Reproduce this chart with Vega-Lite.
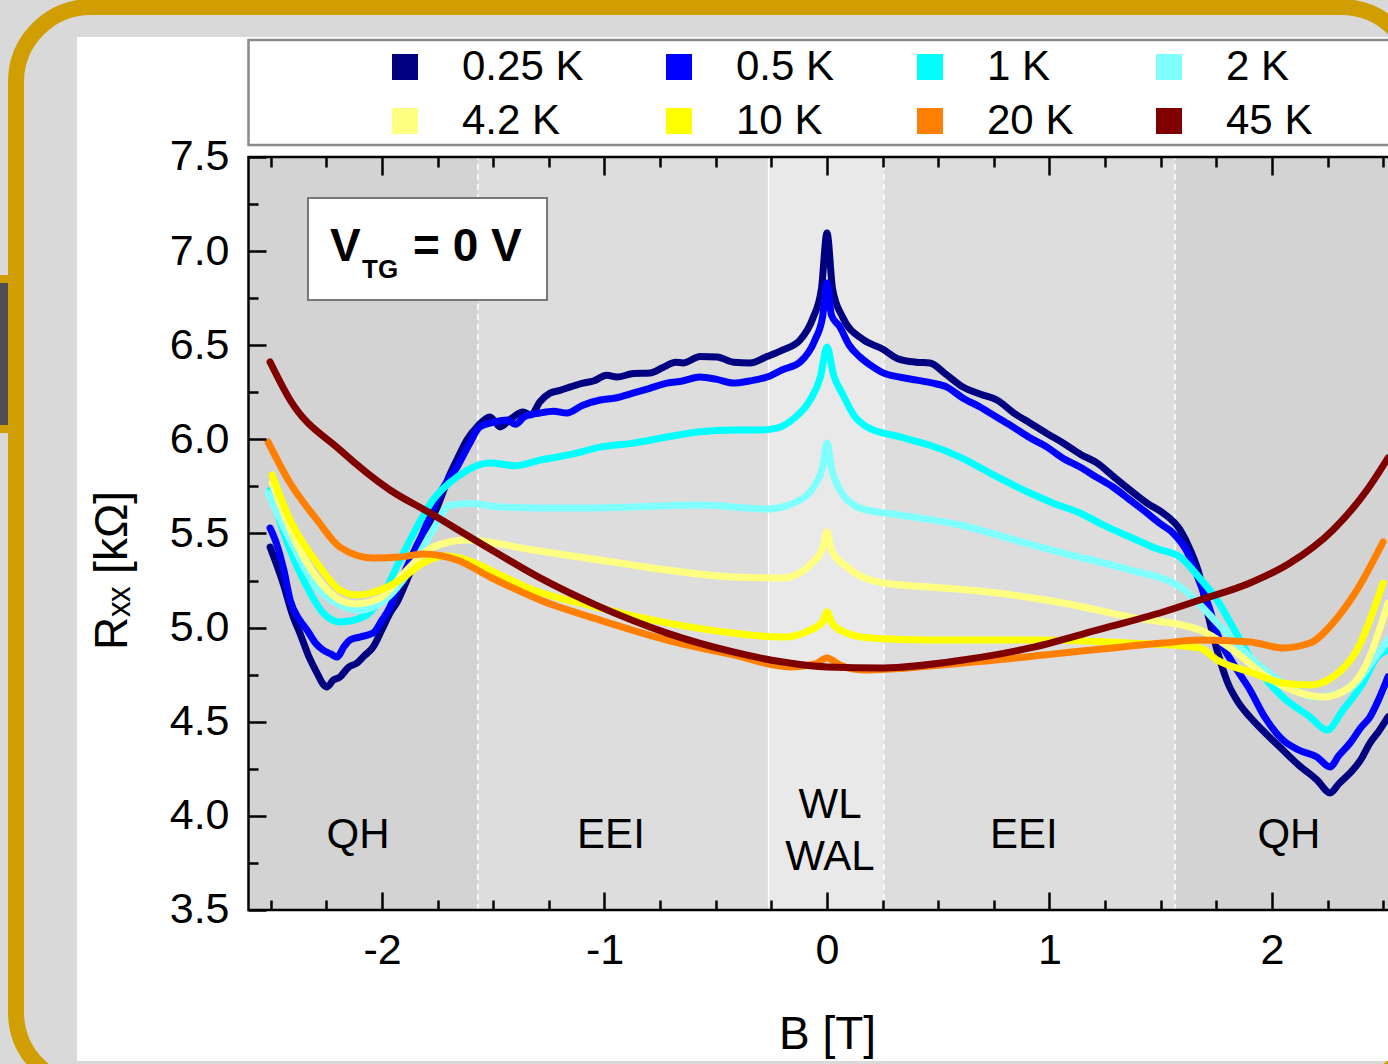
{
"$schema": "https://vega.github.io/schema/vega-lite/v6.json",
"width": 1400, "height": 1080,
"autosize": {"type": "none"},
"padding": {"left": 16, "top": 7, "right": -28, "bottom": -23},
"background": "#d9d9d9",
"config": {
  "view": {"stroke": "#d09e00", "strokeWidth": 16, "cornerRadius": 75, "fill": "#d9d9d9"},
  "font": "Liberation Sans",
  "axis": {"grid": false, "domain": false, "tickColor": "black", "tickWidth": 2.5, "labelFont": "Liberation Sans", "labelFontSize": 43, "labelColor": "black", "titleFont": "Liberation Sans", "titleFontSize": 46, "titleFontWeight": "normal", "titleColor": "black"}
},
"datasets": {
  "bands": [
    {"zone": "QH", "b1": -2.6, "b2": -1.569},
    {"zone": "EEI", "b1": -1.569, "b2": -0.2625},
    {"zone": "WL", "b1": -0.2625, "b2": 0.256},
    {"zone": "EEI", "b1": 0.256, "b2": 1.564},
    {"zone": "QH", "b1": 1.564, "b2": 2.6}
  ],
  "bounds": [
    {"B": -1.569, "kind": "dash"}, {"B": -0.2625, "kind": "solid"}, {"B": 0.256, "kind": "dash"}, {"B": 1.564, "kind": "dash"}
  ],
  "zones": [
    {"txt": "QH", "B": -2.108, "R": 3.829}, {"txt": "EEI", "B": -0.971, "R": 3.829},
    {"txt": "WL", "B": 0.0135, "R": 3.989}, {"txt": "WAL", "B": 0.0135, "R": 3.712},
    {"txt": "EEI", "B": 0.885, "R": 3.829}, {"txt": "QH", "B": 2.076, "R": 3.829}
  ],
  "vtg": [
    {"txt": "V", "B": -2.2337, "R": 6.9475, "part": "big"},
    {"txt": "= 0 V", "B": -1.8607, "R": 6.9475, "part": "big"},
    {"txt": "TG", "B": -2.0899, "R": 6.8572, "part": "sub"}
  ],
  "curves": [
{"T":"0.25 K","B":-2.503,"R":5.428},{"T":"0.25 K","B":-2.445,"R":5.237},{"T":"0.25 K","B":-2.4,"R":5.06},{"T":"0.25 K","B":-2.369,"R":4.971},{"T":"0.25 K","B":-2.33,"R":4.85},{"T":"0.25 K","B":-2.292,"R":4.759},{"T":"0.25 K","B":-2.265,"R":4.7},{"T":"0.25 K","B":-2.247,"R":4.685},{"T":"0.25 K","B":-2.22,"R":4.72},{"T":"0.25 K","B":-2.189,"R":4.738},{"T":"0.25 K","B":-2.15,"R":4.79},{"T":"0.25 K","B":-2.112,"R":4.812},{"T":"0.25 K","B":-2.08,"R":4.85},{"T":"0.25 K","B":-2.04,"R":4.897},{"T":"0.25 K","B":-2.0,"R":4.99},{"T":"0.25 K","B":-1.964,"R":5.078},{"T":"0.25 K","B":-1.93,"R":5.14},{"T":"0.25 K","B":-1.888,"R":5.253},{"T":"0.25 K","B":-1.85,"R":5.36},{"T":"0.25 K","B":-1.816,"R":5.466},{"T":"0.25 K","B":-1.78,"R":5.56},{"T":"0.25 K","B":-1.739,"R":5.678},{"T":"0.25 K","B":-1.7,"R":5.8},{"T":"0.25 K","B":-1.66,"R":5.9},{"T":"0.25 K","B":-1.618,"R":5.997},{"T":"0.25 K","B":-1.57,"R":6.07},{"T":"0.25 K","B":-1.515,"R":6.119},{"T":"0.25 K","B":-1.49,"R":6.09},{"T":"0.25 K","B":-1.47,"R":6.066},{"T":"0.25 K","B":-1.42,"R":6.11},{"T":"0.25 K","B":-1.366,"R":6.145},{"T":"0.25 K","B":-1.33,"R":6.13},{"T":"0.25 K","B":-1.29,"R":6.2},{"T":"0.25 K","B":-1.245,"R":6.246},{"T":"0.25 K","B":-1.2,"R":6.26},{"T":"0.25 K","B":-1.15,"R":6.28},{"T":"0.25 K","B":-1.097,"R":6.299},{"T":"0.25 K","B":-1.05,"R":6.31},{"T":"0.25 K","B":-0.99,"R":6.34},{"T":"0.25 K","B":-0.944,"R":6.331},{"T":"0.25 K","B":-0.87,"R":6.35},{"T":"0.25 K","B":-0.796,"R":6.353},{"T":"0.25 K","B":-0.74,"R":6.38},{"T":"0.25 K","B":-0.68,"R":6.41},{"T":"0.25 K","B":-0.647,"R":6.406},{"T":"0.25 K","B":-0.57,"R":6.44},{"T":"0.25 K","B":-0.494,"R":6.438},{"T":"0.25 K","B":-0.42,"R":6.41},{"T":"0.25 K","B":-0.346,"R":6.406},{"T":"0.25 K","B":-0.27,"R":6.44},{"T":"0.25 K","B":-0.198,"R":6.475},{"T":"0.25 K","B":-0.121,"R":6.528},{"T":"0.25 K","B":-0.063,"R":6.645},{"T":"0.25 K","B":-0.025,"R":6.8},{"T":"0.25 K","B":0,"R":7.096},{"T":"0.25 K","B":0.025,"R":6.8},{"T":"0.25 K","B":0.07,"R":6.65},{"T":"0.25 K","B":0.162,"R":6.53},{"T":"0.25 K","B":0.25,"R":6.48},{"T":"0.25 K","B":0.315,"R":6.43},{"T":"0.25 K","B":0.4,"R":6.41},{"T":"0.25 K","B":0.463,"R":6.406},{"T":"0.25 K","B":0.53,"R":6.35},{"T":"0.25 K","B":0.611,"R":6.278},{"T":"0.25 K","B":0.69,"R":6.24},{"T":"0.25 K","B":0.764,"R":6.209},{"T":"0.25 K","B":0.84,"R":6.14},{"T":"0.25 K","B":0.912,"R":6.087},{"T":"0.25 K","B":0.99,"R":6.03},{"T":"0.25 K","B":1.061,"R":5.981},{"T":"0.25 K","B":1.14,"R":5.92},{"T":"0.25 K","B":1.213,"R":5.875},{"T":"0.25 K","B":1.29,"R":5.8},{"T":"0.25 K","B":1.362,"R":5.731},{"T":"0.25 K","B":1.44,"R":5.66},{"T":"0.25 K","B":1.51,"R":5.609},{"T":"0.25 K","B":1.587,"R":5.519},{"T":"0.25 K","B":1.63,"R":5.42},{"T":"0.25 K","B":1.676,"R":5.269},{"T":"0.25 K","B":1.71,"R":5.08},{"T":"0.25 K","B":1.753,"R":4.881},{"T":"0.25 K","B":1.8,"R":4.71},{"T":"0.25 K","B":1.85,"R":4.6},{"T":"0.25 K","B":1.901,"R":4.525},{"T":"0.25 K","B":1.97,"R":4.44},{"T":"0.25 K","B":2.049,"R":4.35},{"T":"0.25 K","B":2.12,"R":4.27},{"T":"0.25 K","B":2.202,"R":4.191},{"T":"0.25 K","B":2.261,"R":4.122},{"T":"0.25 K","B":2.3,"R":4.17},{"T":"0.25 K","B":2.351,"R":4.228},{"T":"0.25 K","B":2.4,"R":4.3},{"T":"0.25 K","B":2.44,"R":4.387},{"T":"0.25 K","B":2.48,"R":4.45},{"T":"0.25 K","B":2.521,"R":4.525},
{"T":"0.5 K","B":-2.503,"R":5.529},{"T":"0.5 K","B":-2.472,"R":5.439},{"T":"0.5 K","B":-2.44,"R":5.3},{"T":"0.5 K","B":-2.413,"R":5.147},{"T":"0.5 K","B":-2.37,"R":5.04},{"T":"0.5 K","B":-2.337,"R":4.987},{"T":"0.5 K","B":-2.3,"R":4.92},{"T":"0.5 K","B":-2.265,"R":4.881},{"T":"0.5 K","B":-2.23,"R":4.86},{"T":"0.5 K","B":-2.202,"R":4.844},{"T":"0.5 K","B":-2.17,"R":4.9},{"T":"0.5 K","B":-2.144,"R":4.934},{"T":"0.5 K","B":-2.1,"R":4.95},{"T":"0.5 K","B":-2.04,"R":4.971},{"T":"0.5 K","B":-2.0,"R":5.04},{"T":"0.5 K","B":-1.964,"R":5.11},{"T":"0.5 K","B":-1.93,"R":5.21},{"T":"0.5 K","B":-1.888,"R":5.322},{"T":"0.5 K","B":-1.85,"R":5.42},{"T":"0.5 K","B":-1.816,"R":5.503},{"T":"0.5 K","B":-1.78,"R":5.61},{"T":"0.5 K","B":-1.739,"R":5.715},{"T":"0.5 K","B":-1.7,"R":5.79},{"T":"0.5 K","B":-1.663,"R":5.853},{"T":"0.5 K","B":-1.61,"R":5.97},{"T":"0.5 K","B":-1.56,"R":6.066},{"T":"0.5 K","B":-1.5,"R":6.09},{"T":"0.5 K","B":-1.438,"R":6.103},{"T":"0.5 K","B":-1.4,"R":6.08},{"T":"0.5 K","B":-1.36,"R":6.12},{"T":"0.5 K","B":-1.29,"R":6.14},{"T":"0.5 K","B":-1.23,"R":6.15},{"T":"0.5 K","B":-1.169,"R":6.14},{"T":"0.5 K","B":-1.1,"R":6.18},{"T":"0.5 K","B":-1.02,"R":6.209},{"T":"0.5 K","B":-0.95,"R":6.22},{"T":"0.5 K","B":-0.872,"R":6.246},{"T":"0.5 K","B":-0.8,"R":6.27},{"T":"0.5 K","B":-0.719,"R":6.299},{"T":"0.5 K","B":-0.65,"R":6.31},{"T":"0.5 K","B":-0.571,"R":6.331},{"T":"0.5 K","B":-0.5,"R":6.32},{"T":"0.5 K","B":-0.422,"R":6.299},{"T":"0.5 K","B":-0.35,"R":6.31},{"T":"0.5 K","B":-0.27,"R":6.331},{"T":"0.5 K","B":-0.2,"R":6.37},{"T":"0.5 K","B":-0.121,"R":6.411},{"T":"0.5 K","B":-0.054,"R":6.528},{"T":"0.5 K","B":-0.02,"R":6.65},{"T":"0.5 K","B":0,"R":6.831},{"T":"0.5 K","B":0.02,"R":6.66},{"T":"0.5 K","B":0.058,"R":6.597},{"T":"0.5 K","B":0.1,"R":6.5},{"T":"0.5 K","B":0.148,"R":6.438},{"T":"0.5 K","B":0.2,"R":6.39},{"T":"0.5 K","B":0.252,"R":6.353},{"T":"0.5 K","B":0.33,"R":6.33},{"T":"0.5 K","B":0.404,"R":6.315},{"T":"0.5 K","B":0.47,"R":6.3},{"T":"0.5 K","B":0.539,"R":6.278},{"T":"0.5 K","B":0.61,"R":6.22},{"T":"0.5 K","B":0.688,"R":6.172},{"T":"0.5 K","B":0.76,"R":6.12},{"T":"0.5 K","B":0.836,"R":6.066},{"T":"0.5 K","B":0.91,"R":6.01},{"T":"0.5 K","B":0.989,"R":5.959},{"T":"0.5 K","B":1.06,"R":5.9},{"T":"0.5 K","B":1.137,"R":5.853},{"T":"0.5 K","B":1.21,"R":5.8},{"T":"0.5 K","B":1.285,"R":5.747},{"T":"0.5 K","B":1.36,"R":5.68},{"T":"0.5 K","B":1.438,"R":5.609},{"T":"0.5 K","B":1.5,"R":5.55},{"T":"0.5 K","B":1.555,"R":5.503},{"T":"0.5 K","B":1.62,"R":5.4},{"T":"0.5 K","B":1.676,"R":5.237},{"T":"0.5 K","B":1.72,"R":5.1},{"T":"0.5 K","B":1.753,"R":4.971},{"T":"0.5 K","B":1.83,"R":4.8},{"T":"0.5 K","B":1.901,"R":4.669},{"T":"0.5 K","B":1.97,"R":4.52},{"T":"0.5 K","B":2.049,"R":4.403},{"T":"0.5 K","B":2.12,"R":4.35},{"T":"0.5 K","B":2.202,"R":4.313},{"T":"0.5 K","B":2.261,"R":4.26},{"T":"0.5 K","B":2.3,"R":4.32},{"T":"0.5 K","B":2.351,"R":4.387},{"T":"0.5 K","B":2.4,"R":4.47},{"T":"0.5 K","B":2.44,"R":4.525},{"T":"0.5 K","B":2.48,"R":4.62},{"T":"0.5 K","B":2.521,"R":4.738},
{"T":"1 K","B":-2.503,"R":5.731},{"T":"1 K","B":-2.46,"R":5.57},{"T":"1 K","B":-2.413,"R":5.412},{"T":"1 K","B":-2.337,"R":5.216},{"T":"1 K","B":-2.265,"R":5.078},{"T":"1 K","B":-2.189,"R":5.03},{"T":"1 K","B":-2.085,"R":5.056},{"T":"1 K","B":-2.009,"R":5.147},{"T":"1 K","B":-1.919,"R":5.359},{"T":"1 K","B":-1.843,"R":5.535},{"T":"1 K","B":-1.771,"R":5.678},{"T":"1 K","B":-1.663,"R":5.8},{"T":"1 K","B":-1.515,"R":5.875},{"T":"1 K","B":-1.4,"R":5.86},{"T":"1 K","B":-1.29,"R":5.89},{"T":"1 K","B":-1.15,"R":5.92},{"T":"1 K","B":-1.02,"R":5.959},{"T":"1 K","B":-0.87,"R":5.98},{"T":"1 K","B":-0.719,"R":6.013},{"T":"1 K","B":-0.57,"R":6.04},{"T":"1 K","B":-0.422,"R":6.05},{"T":"1 K","B":-0.3,"R":6.05},{"T":"1 K","B":-0.225,"R":6.06},{"T":"1 K","B":-0.15,"R":6.11},{"T":"1 K","B":-0.076,"R":6.209},{"T":"1 K","B":-0.03,"R":6.33},{"T":"1 K","B":0,"R":6.491},{"T":"1 K","B":0.03,"R":6.34},{"T":"1 K","B":0.072,"R":6.236},{"T":"1 K","B":0.12,"R":6.13},{"T":"1 K","B":0.18,"R":6.066},{"T":"1 K","B":0.328,"R":6.013},{"T":"1 K","B":0.46,"R":5.97},{"T":"1 K","B":0.598,"R":5.906},{"T":"1 K","B":0.75,"R":5.81},{"T":"1 K","B":0.912,"R":5.715},{"T":"1 K","B":1.02,"R":5.66},{"T":"1 K","B":1.137,"R":5.609},{"T":"1 K","B":1.25,"R":5.54},{"T":"1 K","B":1.362,"R":5.481},{"T":"1 K","B":1.48,"R":5.42},{"T":"1 K","B":1.587,"R":5.375},{"T":"1 K","B":1.67,"R":5.27},{"T":"1 K","B":1.753,"R":5.147},{"T":"1 K","B":1.83,"R":4.99},{"T":"1 K","B":1.901,"R":4.844},{"T":"1 K","B":1.97,"R":4.73},{"T":"1 K","B":2.049,"R":4.631},{"T":"1 K","B":2.171,"R":4.525},{"T":"1 K","B":2.247,"R":4.456},{"T":"1 K","B":2.319,"R":4.562},{"T":"1 K","B":2.409,"R":4.706},{"T":"1 K","B":2.472,"R":4.844},{"T":"1 K","B":2.521,"R":4.881},
{"T":"2 K","B":-2.512,"R":5.715},{"T":"2 K","B":-2.46,"R":5.58},{"T":"2 K","B":-2.413,"R":5.466},{"T":"2 K","B":-2.301,"R":5.226},{"T":"2 K","B":-2.189,"R":5.12},{"T":"2 K","B":-2.099,"R":5.094},{"T":"2 K","B":-1.987,"R":5.147},{"T":"2 K","B":-1.874,"R":5.306},{"T":"2 K","B":-1.771,"R":5.519},{"T":"2 K","B":-1.694,"R":5.651},{"T":"2 K","B":-1.6,"R":5.66},{"T":"2 K","B":-1.47,"R":5.641},{"T":"2 K","B":-1.169,"R":5.635},{"T":"2 K","B":-0.872,"R":5.641},{"T":"2 K","B":-0.571,"R":5.651},{"T":"2 K","B":-0.27,"R":5.63},{"T":"2 K","B":-0.121,"R":5.678},{"T":"2 K","B":-0.054,"R":5.758},{"T":"2 K","B":-0.02,"R":5.85},{"T":"2 K","B":0,"R":5.981},{"T":"2 K","B":0.02,"R":5.85},{"T":"2 K","B":0.058,"R":5.731},{"T":"2 K","B":0.148,"R":5.635},{"T":"2 K","B":0.328,"R":5.598},{"T":"2 K","B":0.598,"R":5.545},{"T":"2 K","B":0.83,"R":5.47},{"T":"2 K","B":1.061,"R":5.396},{"T":"2 K","B":1.362,"R":5.306},{"T":"2 K","B":1.587,"R":5.216},{"T":"2 K","B":1.67,"R":5.13},{"T":"2 K","B":1.753,"R":5.025},{"T":"2 K","B":1.901,"R":4.844},{"T":"2 K","B":2.049,"R":4.706},{"T":"2 K","B":2.202,"R":4.631},{"T":"2 K","B":2.351,"R":4.679},{"T":"2 K","B":2.472,"R":4.855},{"T":"2 K","B":2.521,"R":4.934},
{"T":"4.2 K","B":-2.494,"R":5.768},{"T":"4.2 K","B":-2.391,"R":5.466},{"T":"4.2 K","B":-2.292,"R":5.264},{"T":"4.2 K","B":-2.189,"R":5.147},{"T":"4.2 K","B":-2.121,"R":5.126},{"T":"4.2 K","B":-2.009,"R":5.157},{"T":"4.2 K","B":-1.888,"R":5.306},{"T":"4.2 K","B":-1.771,"R":5.428},{"T":"4.2 K","B":-1.618,"R":5.466},{"T":"4.2 K","B":-1.321,"R":5.412},{"T":"4.2 K","B":-1.02,"R":5.359},{"T":"4.2 K","B":-0.719,"R":5.306},{"T":"4.2 K","B":-0.422,"R":5.269},{"T":"4.2 K","B":-0.198,"R":5.264},{"T":"4.2 K","B":-0.076,"R":5.333},{"T":"4.2 K","B":-0.02,"R":5.42},{"T":"4.2 K","B":0,"R":5.508},{"T":"4.2 K","B":0.02,"R":5.41},{"T":"4.2 K","B":0.09,"R":5.322},{"T":"4.2 K","B":0.252,"R":5.237},{"T":"4.2 K","B":0.463,"R":5.216},{"T":"4.2 K","B":0.764,"R":5.184},{"T":"4.2 K","B":1.061,"R":5.131},{"T":"4.2 K","B":1.362,"R":5.056},{"T":"4.2 K","B":1.676,"R":4.987},{"T":"4.2 K","B":1.825,"R":4.881},{"T":"4.2 K","B":1.978,"R":4.738},{"T":"4.2 K","B":2.126,"R":4.653},{"T":"4.2 K","B":2.229,"R":4.631},{"T":"4.2 K","B":2.351,"R":4.685},{"T":"4.2 K","B":2.427,"R":4.812},{"T":"4.2 K","B":2.521,"R":5.131},
{"T":"10 K","B":-2.494,"R":5.811},{"T":"10 K","B":-2.413,"R":5.572},{"T":"10 K","B":-2.292,"R":5.343},{"T":"10 K","B":-2.189,"R":5.2},{"T":"10 K","B":-2.112,"R":5.173},{"T":"10 K","B":-2.009,"R":5.2},{"T":"10 K","B":-1.919,"R":5.253},{"T":"10 K","B":-1.816,"R":5.343},{"T":"10 K","B":-1.717,"R":5.38},{"T":"10 K","B":-1.618,"R":5.359},{"T":"10 K","B":-1.47,"R":5.28},{"T":"10 K","B":-1.321,"R":5.2},{"T":"10 K","B":-1.169,"R":5.147},{"T":"10 K","B":-1.02,"R":5.104},{"T":"10 K","B":-0.719,"R":5.025},{"T":"10 K","B":-0.422,"R":4.971},{"T":"10 K","B":-0.198,"R":4.95},{"T":"10 K","B":-0.076,"R":4.987},{"T":"10 K","B":-0.02,"R":5.03},{"T":"10 K","B":0,"R":5.083},{"T":"10 K","B":0.02,"R":5.03},{"T":"10 K","B":0.058,"R":4.987},{"T":"10 K","B":0.193,"R":4.945},{"T":"10 K","B":0.463,"R":4.934},{"T":"10 K","B":0.912,"R":4.934},{"T":"10 K","B":1.362,"R":4.918},{"T":"10 K","B":1.676,"R":4.892},{"T":"10 K","B":1.753,"R":4.828},{"T":"10 K","B":1.901,"R":4.764},{"T":"10 K","B":2.049,"R":4.706},{"T":"10 K","B":2.171,"R":4.695},{"T":"10 K","B":2.274,"R":4.738},{"T":"10 K","B":2.382,"R":4.881},{"T":"10 K","B":2.499,"R":5.237},
{"T":"20 K","B":-2.512,"R":5.986},{"T":"20 K","B":-2.413,"R":5.768},{"T":"20 K","B":-2.292,"R":5.572},{"T":"20 K","B":-2.189,"R":5.428},{"T":"20 K","B":-2.04,"R":5.37},{"T":"20 K","B":-1.919,"R":5.375},{"T":"20 K","B":-1.816,"R":5.391},{"T":"20 K","B":-1.663,"R":5.359},{"T":"20 K","B":-1.515,"R":5.269},{"T":"20 K","B":-1.29,"R":5.147},{"T":"20 K","B":-1.02,"R":5.04},{"T":"20 K","B":-0.719,"R":4.934},{"T":"20 K","B":-0.422,"R":4.855},{"T":"20 K","B":-0.166,"R":4.791},{"T":"20 K","B":-0.054,"R":4.807},{"T":"20 K","B":0,"R":4.839},{"T":"20 K","B":0.058,"R":4.801},{"T":"20 K","B":0.162,"R":4.775},{"T":"20 K","B":0.611,"R":4.812},{"T":"20 K","B":1.061,"R":4.865},{"T":"20 K","B":1.51,"R":4.918},{"T":"20 K","B":1.676,"R":4.934},{"T":"20 K","B":1.901,"R":4.924},{"T":"20 K","B":2.049,"R":4.892},{"T":"20 K","B":2.171,"R":4.918},{"T":"20 K","B":2.274,"R":5.025},{"T":"20 K","B":2.382,"R":5.2},{"T":"20 K","B":2.499,"R":5.455},
{"T":"45 K","B":-2.503,"R":6.411},{"T":"45 K","B":-2.413,"R":6.209},{"T":"45 K","B":-2.189,"R":5.944},{"T":"45 K","B":-1.964,"R":5.731},{"T":"45 K","B":-1.784,"R":5.609},{"T":"45 K","B":-1.56,"R":5.45},{"T":"45 K","B":-1.29,"R":5.264},{"T":"45 K","B":-1.02,"R":5.11},{"T":"45 K","B":-0.719,"R":4.971},{"T":"45 K","B":-0.422,"R":4.871},{"T":"45 K","B":-0.198,"R":4.817},{"T":"45 K","B":0,"R":4.791},{"T":"45 K","B":0.252,"R":4.786},{"T":"45 K","B":0.611,"R":4.828},{"T":"45 K","B":0.912,"R":4.892},{"T":"45 K","B":1.213,"R":4.987},{"T":"45 K","B":1.51,"R":5.083},{"T":"45 K","B":1.676,"R":5.147},{"T":"45 K","B":1.901,"R":5.237},{"T":"45 K","B":2.081,"R":5.343},{"T":"45 K","B":2.274,"R":5.519},{"T":"45 K","B":2.427,"R":5.731},{"T":"45 K","B":2.521,"R":5.901}
  ]
},
"layer": [
  {
    "layer": [
      {
        "data": {"values": [{}]},
        "mark": {"type": "rect", "fill": "#d09e00", "strokeWidth": 0},
        "encoding": {
          "x": {"datum": -3.72, "type": "quantitative", "scale": {"domain": [-3.64494, 2.64719], "nice": false, "zero": false}},
          "x2": {"datum": -3.676},
          "y": {"datum": 6.0339, "type": "quantitative", "scale": {"domain": [2.55976, 8.29681], "nice": false, "zero": false}},
          "y2": {"datum": 6.8732}
        }
      },
      {
        "data": {"values": [{}]},
        "mark": {"type": "rect", "fill": "#4e4e54", "strokeWidth": 0},
        "encoding": {
          "x": {"datum": -3.72, "type": "quantitative", "scale": {"domain": [-3.64494, 2.64719], "nice": false, "zero": false}},
          "x2": {"datum": -3.6809},
          "y": {"datum": 6.0764, "type": "quantitative", "scale": {"domain": [2.55976, 8.29681], "nice": false, "zero": false}},
          "y2": {"datum": 6.8307}
        }
      },
      {
        "data": {"values": [{}]},
        "mark": {"type": "rect", "fill": "white", "strokeWidth": 0},
        "encoding": {
          "x": {"datum": -3.3708, "type": "quantitative", "scale": {"domain": [-3.64494, 2.64719], "nice": false, "zero": false}},
          "x2": {"datum": 2.7},
          "y": {"datum": 2.6979, "type": "quantitative", "scale": {"domain": [2.55976, 8.29681], "nice": false, "zero": false}},
          "y2": {"datum": 8.1375}
        }
      },
      {
        "data": {"values": [{}]},
        "mark": {"type": "rect", "fill": "white", "stroke": "#8a8a8a", "strokeWidth": 2.5},
        "encoding": {
          "x": {"datum": -2.6, "type": "quantitative", "scale": {"domain": [-3.64494, 2.64719], "nice": false, "zero": false}},
          "x2": {"datum": 2.75},
          "y": {"datum": 7.5637, "type": "quantitative", "scale": {"domain": [2.55976, 8.29681], "nice": false, "zero": false}},
          "y2": {"datum": 8.1215}
        }
      },
      {
        "data": {"name": "bands"},
        "mark": {"type": "rect", "strokeWidth": 0},
        "encoding": {
          "x": {"field": "b1", "type": "quantitative", "scale": {"domain": [-3.64494, 2.64719], "nice": false, "zero": false}},
          "x2": {"field": "b2"},
          "y": {"datum": 3.5, "type": "quantitative", "scale": {"domain": [2.55976, 8.29681], "nice": false, "zero": false}},
          "y2": {"datum": 7.5},
          "fill": {"field": "zone", "type": "nominal", "scale": {"domain": ["QH", "EEI", "WL"], "range": ["#d3d3d3", "#dddddd", "#e9e9e9"]}, "legend": null}
        }
      },
      {
        "data": {"name": "bounds"},
        "transform": [{"filter": "datum.kind == 'dash'"}],
        "mark": {"type": "rule", "color": "white", "strokeWidth": 1.5, "strokeDash": [6, 4]},
        "encoding": {
          "x": {"field": "B", "type": "quantitative", "scale": {"domain": [-3.64494, 2.64719], "nice": false, "zero": false}},
          "y": {"datum": 3.5, "type": "quantitative", "scale": {"domain": [2.55976, 8.29681], "nice": false, "zero": false}},
          "y2": {"datum": 7.5}
        }
      },
      {
        "data": {"name": "bounds"},
        "transform": [{"filter": "datum.kind == 'solid'"}],
        "mark": {"type": "rule", "color": "white", "strokeWidth": 1.5},
        "encoding": {
          "x": {"field": "B", "type": "quantitative", "scale": {"domain": [-3.64494, 2.64719], "nice": false, "zero": false}},
          "y": {"datum": 3.5, "type": "quantitative", "scale": {"domain": [2.55976, 8.29681], "nice": false, "zero": false}},
          "y2": {"datum": 7.5}
        }
      },
      {
        "data": {"values": [{}]},
        "mark": {"type": "rect", "fill": "white", "stroke": "#777777", "strokeWidth": 2},
        "encoding": {
          "x": {"datum": -2.3326, "type": "quantitative", "scale": {"domain": [-3.64494, 2.64719], "nice": false, "zero": false}},
          "x2": {"datum": -1.2584},
          "y": {"datum": 6.7404, "type": "quantitative", "scale": {"domain": [2.55976, 8.29681], "nice": false, "zero": false}},
          "y2": {"datum": 7.2822}
        }
      },
      {
        "data": {"name": "vtg"},
        "transform": [{"filter": "datum.part == 'big'"}],
        "mark": {"type": "text", "font": "Liberation Sans", "fontSize": 46, "fontWeight": "bold", "align": "left", "baseline": "alphabetic", "color": "black"},
        "encoding": {
          "x": {"field": "B", "type": "quantitative", "scale": {"domain": [-3.64494, 2.64719], "nice": false, "zero": false}},
          "y": {"field": "R", "type": "quantitative", "scale": {"domain": [2.55976, 8.29681], "nice": false, "zero": false}},
          "text": {"field": "txt"}
        }
      },
      {
        "data": {"name": "vtg"},
        "transform": [{"filter": "datum.part == 'sub'"}],
        "mark": {"type": "text", "font": "Liberation Sans", "fontSize": 26, "fontWeight": "bold", "align": "left", "baseline": "alphabetic", "color": "black"},
        "encoding": {
          "x": {"field": "B", "type": "quantitative", "scale": {"domain": [-3.64494, 2.64719], "nice": false, "zero": false}},
          "y": {"field": "R", "type": "quantitative", "scale": {"domain": [2.55976, 8.29681], "nice": false, "zero": false}},
          "text": {"field": "txt"}
        }
      },
      {
        "data": {"name": "zones"},
        "mark": {"type": "text", "font": "Liberation Sans", "fontSize": 42, "align": "center", "baseline": "alphabetic", "color": "black"},
        "encoding": {
          "x": {"field": "B", "type": "quantitative", "scale": {"domain": [-3.64494, 2.64719], "nice": false, "zero": false}},
          "y": {"field": "R", "type": "quantitative", "scale": {"domain": [2.55976, 8.29681], "nice": false, "zero": false}},
          "text": {"field": "txt"}
        }
      },
      {
        "data": {"name": "curves"},
        "mark": {"type": "line", "strokeWidth": 7, "interpolate": "monotone", "strokeJoin": "round", "strokeCap": "round"},
        "encoding": {
          "x": {"field": "B", "type": "quantitative", "scale": {"domain": [-3.64494, 2.64719], "nice": false, "zero": false},
                "axis": {"orient": "bottom", "offset": -177, "zindex": 2, "values": [-2.5,-2.25,-2,-1.75,-1.5,-1.25,-1,-0.75,-0.5,-0.25,0,0.25,0.5,0.75,1,1.25,1.5,1.75,2,2.25,2.5],
                         "tickSize": {"condition": {"test": "abs(datum.value - round(datum.value)) < 0.01", "value": -18}, "value": -10},
                         "labelPadding": 37, "labelExpr": "abs(datum.value - round(datum.value)) < 0.01 ? toString(round(datum.value)) : ''",
                         "title": "B [T]", "titleX": 811, "titleY": 138, "titleAlign": "center", "titleBaseline": "alphabetic", "labelFlush": false, "labelOverlap": false}},
          "y": {"field": "R", "type": "quantitative", "scale": {"domain": [2.55976, 8.29681], "nice": false, "zero": false},
                "axis": {"orient": "left", "offset": -232, "zindex": 2, "values": [3.5,3.75,4,4.25,4.5,4.75,5,5.25,5.5,5.75,6,6.25,6.5,6.75,7,7.25,7.5],
                         "tickSize": {"condition": {"test": "abs(datum.value*2 - round(datum.value*2)) < 0.01", "value": -18}, "value": -10},
                         "labelPadding": 37, "labelExpr": "abs(datum.value*2 - round(datum.value*2)) < 0.01 ? format(datum.value, '.1f') : ''",
                         "title": "Rₓₓ [kΩ]", "titleX": -122, "titleY": 563, "titleAngle": -90, "titleAlign": "center", "titleBaseline": "alphabetic", "labelFlush": false, "labelOverlap": false}},
          "color": {"field": "T", "type": "nominal",
                    "scale": {"domain": ["0.25 K", "0.5 K", "1 K", "2 K", "4.2 K", "10 K", "20 K", "45 K"], "range": ["#000080", "#0000ff", "#00ffff", "#80ffff", "#ffff80", "#ffff00", "#ff8000", "#800000"]},
                    "legend": {"orient": "none", "legendX": 368, "legendY": 39, "direction": "horizontal", "columns": 4, "title": null,
                               "symbolType": "square", "symbolSize": 676, "symbolStrokeWidth": 0, "labelFont": "Liberation Sans", "labelFontSize": 42, "labelColor": "black",
                               "labelOffset": 36, "columnPadding": 74, "rowPadding": 12, "padding": 0, "labelLimit": 400,
                               "encode": {"symbols": {"update": {"fill": {"scale": "color", "field": "value"}, "fillOpacity": {"value": 1}, "opacity": {"value": 1}, "strokeWidth": {"value": 0}}}}}}
        }
      },
      {
        "data": {"values": [{}]},
        "mark": {"type": "rect", "fill": "transparent", "stroke": "black", "strokeWidth": 2.5},
        "encoding": {
          "x": {"datum": -2.6, "type": "quantitative", "scale": {"domain": [-3.64494, 2.64719], "nice": false, "zero": false}},
          "x2": {"datum": 2.6},
          "y": {"datum": 3.5, "type": "quantitative", "scale": {"domain": [2.55976, 8.29681], "nice": false, "zero": false}},
          "y2": {"datum": 7.5}
        }
      }
    ]
  },
  {
    "data": {"values": [{"B": 0}]},
    "mark": {"type": "point", "opacity": 0},
    "encoding": {
      "x": {"field": "B", "type": "quantitative", "scale": {"domain": [-3.64494, 2.64719], "nice": false, "zero": false},
            "axis": {"orient": "top", "offset": -150, "zindex": 2, "values": [-2.5,-2.25,-2,-1.75,-1.5,-1.25,-1,-0.75,-0.5,-0.25,0,0.25,0.5,0.75,1,1.25,1.5,1.75,2,2.25,2.5],
                     "tickSize": {"condition": {"test": "abs(datum.value - round(datum.value)) < 0.01", "value": -18}, "value": -10},
                     "labels": false, "title": null}}
    }
  }
],
"resolve": {"scale": {"x": "independent"}}
}
